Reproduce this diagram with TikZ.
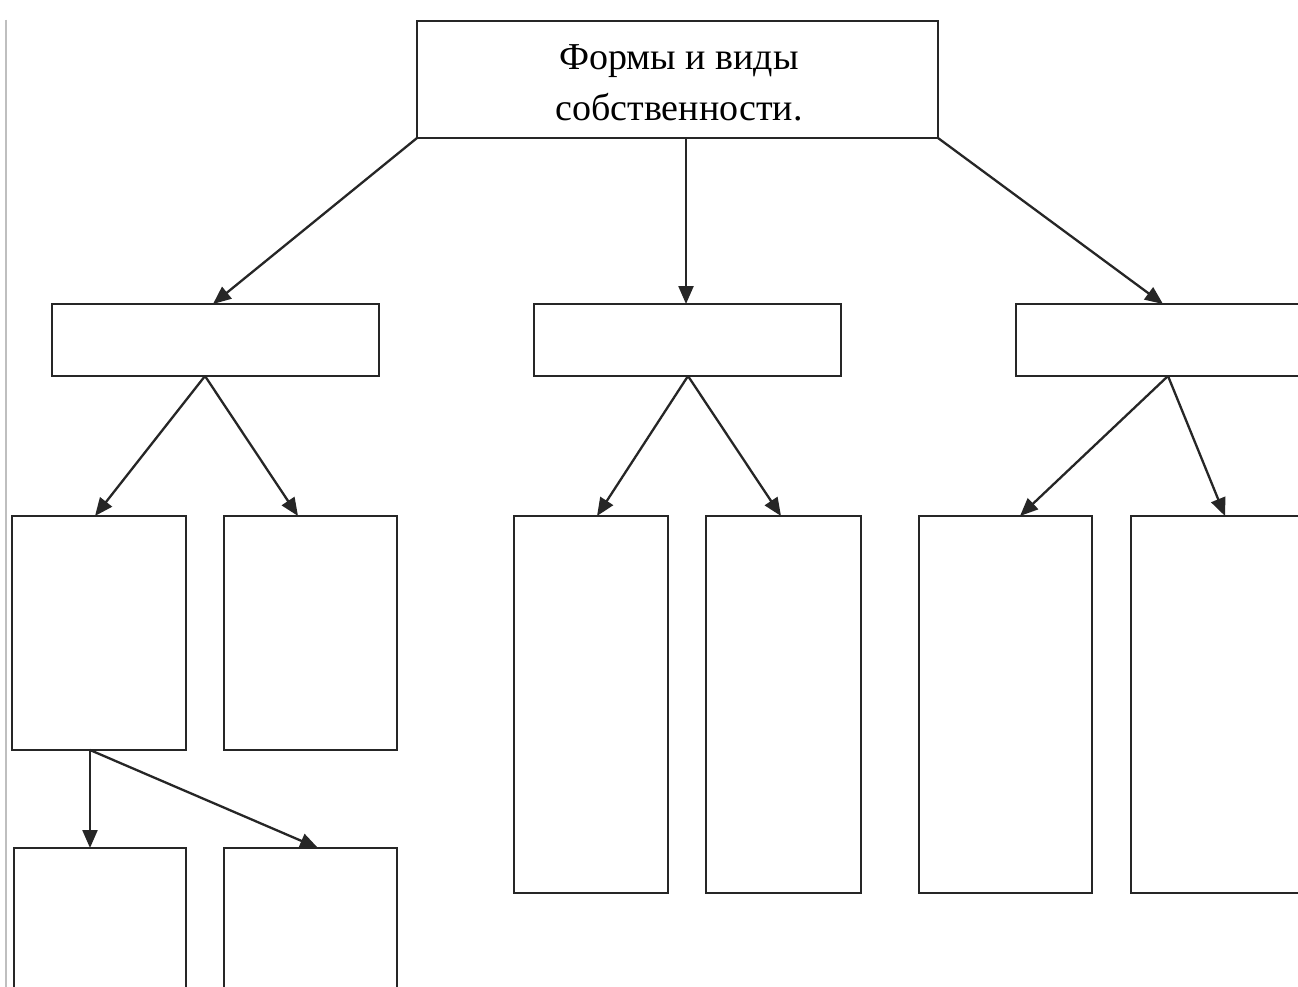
\documentclass[tikz,border=0pt]{standalone}
\usepackage{fontspec}
\setmainfont{Liberation Serif}
\usetikzlibrary{arrows.meta}
\begin{document}
\begin{tikzpicture}[x=1pt,y=-1pt,
  box/.style={draw=black!85,line width=2.7pt,fill=none,inner sep=0pt,outer sep=0pt},
  conn/.style={draw=black!85,line width=2.3pt,-{Triangle[length=18pt,width=15pt]}}]
\useasboundingbox (0,0) rectangle (1298,987);
\clip (0,0) rectangle (1298,987);
\fill[white] (0,0) rectangle (1298,987);
\draw[black!25,line width=1.2pt] (6,20) -- (6,987);
\node[box,minimum width=521pt,minimum height=117pt] (top) at (677.5,79.5) {};
\node[align=center,font=\fontsize{38}{51}\selectfont,inner sep=0pt] (title) at (679,83) {Формы и виды\\собственности.};
\node[box,minimum width=327pt,minimum height=72pt] (L) at (215.5,340) {};
\node[box,minimum width=307pt,minimum height=72pt] (M) at (687.5,340) {};
\node[box,minimum width=327pt,minimum height=72pt] (R) at (1179.5,340) {};
\node[box,minimum width=174pt,minimum height=234pt] (A) at (99,633) {};
\node[box,minimum width=173pt,minimum height=234pt] (B) at (310.5,633) {};
\node[box,minimum width=154pt,minimum height=377pt] (C) at (591,704.5) {};
\node[box,minimum width=155pt,minimum height=377pt] (D) at (783.5,704.5) {};
\node[box,minimum width=173pt,minimum height=377pt] (E) at (1005.5,704.5) {};
\node[box,minimum width=173pt,minimum height=377pt] (F) at (1217.5,704.5) {};
\node[box,minimum width=172pt,minimum height=234pt] (G) at (100,965) {};
\node[box,minimum width=173pt,minimum height=234pt] (H) at (310.5,965) {};
\draw[conn] (top.south west) -- ([xshift=-2.5pt]L.north);
\draw[conn] ([xshift=8.5pt]top.south) -- ([xshift=-1.5pt]M.north);
\draw[conn] (top.south east) -- ([xshift=-16.5pt]R.north);
\draw[conn] ([xshift=-10.5pt]L.south) -- ([xshift=-4pt]A.north);
\draw[conn] ([xshift=-10.5pt]L.south) -- ([xshift=-12.5pt]B.north);
\draw[conn] ([xshift=0.5pt]M.south) -- ([xshift=6pt]C.north);
\draw[conn] ([xshift=0.5pt]M.south) -- ([xshift=-2.5pt]D.north);
\draw[conn] ([xshift=-11.5pt]R.south) -- ([xshift=14.5pt]E.north);
\draw[conn] ([xshift=-11.5pt]R.south) -- ([xshift=7.5pt]F.north);
\draw[conn] ([xshift=-9pt]A.south) -- ([xshift=-10pt]G.north);
\draw[conn] ([xshift=-9pt]A.south) -- ([xshift=7.5pt]H.north);
\end{tikzpicture}
\end{document}
